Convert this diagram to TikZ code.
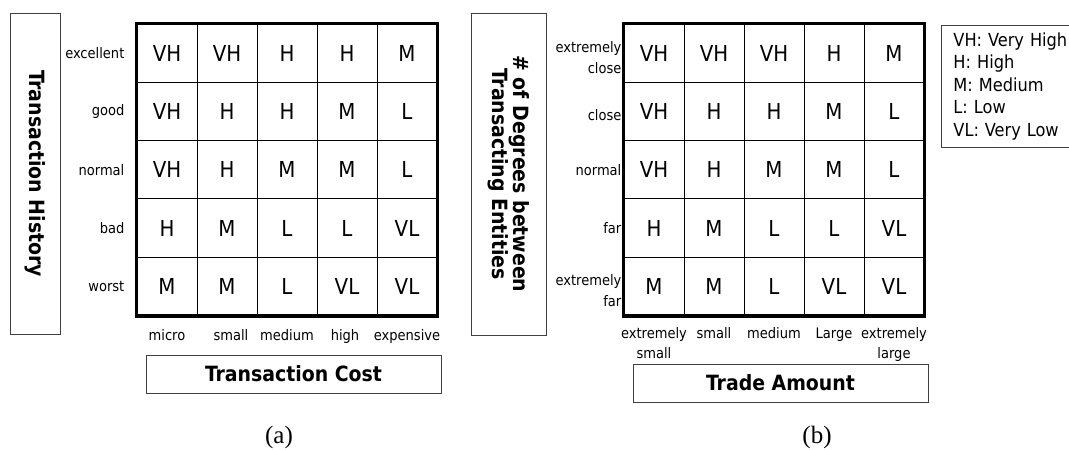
\documentclass[tikz,border=0pt]{standalone}
\usepackage{fontspec}
\setmainfont{DejaVu Sans Condensed}
\newfontfamily\capfont{Liberation Serif}
\usetikzlibrary{positioning}
\tikzset{
  cellnode/.style = {draw=black, line width=0.9pt, inner sep=0pt,
    minimum width=60pt, minimum height=58.3pt,
    font=\fontsize{22}{22}\selectfont},% one grade of the table
  rowlab/.style = {inner sep=0pt, align=right,
    font=\fontsize{14.5}{21}\selectfont},% row name
  collab/.style = {inner sep=0pt, align=center,
    font=\fontsize{14.5}{20}\selectfont},% column name
  axisbox/.style = {draw=black!75, line width=0.9pt, inner sep=0pt,
    align=center, font=\bfseries\fontsize{21}{20}\selectfont},% axis title
  capt/.style = {inner sep=0pt, font=\capfont\fontsize{25}{25}\selectfont}% (a), (b)
}

\begin{document}
\begin{tikzpicture}[x=1pt, y=-1pt]
\useasboundingbox (0,0) rectangle (1069,450);
\clip (0,0) rectangle (1069,450);

% (a) transaction history vs. transaction cost
\foreach \row [count=\r] in {{VH,VH,H,H,M},{VH,H,H,M,L},{VH,H,M,M,L},{H,M,L,L,VL},{M,M,L,VL,VL}}
  \foreach \v [count=\c] in \row
    \node[cellnode] (a\r\c) at (107+60*\c, -5.15+58.3*\r) {\v};
\draw[line width=3.5pt] (a11.north west) rectangle (a55.south east);

\node[rowlab, left=12pt of a11] (ra1) {excellent};
\node[rowlab, left=12pt of a21] (ra2) {good};
\node[rowlab, left=12pt of a31] (ra3) {normal};
\node[rowlab, left=12pt of a41] (ra4) {bad};
\node[rowlab, left=12pt of a51] (ra5) {worst};

\node[collab, below=13pt of a51] (ca1) {micro};
\node[collab, below=13pt of a52, xshift=4pt] (ca2) {small};
\node[collab, below=13pt of a53] (ca3) {medium};
\node[collab, below=13pt of a54, xshift=-2pt] (ca4) {high};
\node[collab, below=13pt of a55] (ca5) {expensive};

\node[axisbox, minimum width=321pt, minimum height=50pt, rotate=-90] (ta) at (35,173.5) {Transaction History};
\node[axisbox, minimum width=295pt, minimum height=38pt] (tc) at (293.5,374) {Transaction Cost};
\node[capt] (la) at (279,437) {(a)};

% (b) degrees between entities vs. trade amount
\foreach \row [count=\r] in {{VH,VH,VH,H,M},{VH,H,H,M,L},{VH,H,M,M,L},{H,M,L,L,VL},{M,M,L,VL,VL}}
  \foreach \v [count=\c] in \row
    \node[cellnode] (b\r\c) at (594+60*\c, -5.15+58.3*\r) {\v};
\draw[line width=3.5pt] (b11.north west) rectangle (b55.south east);

\node[rowlab, left=2pt of b11, yshift=-4pt] (rb1) {extremely\\close};
\node[rowlab, left=2pt of b21, yshift=-4pt] (rb2) {close};
\node[rowlab, left=2pt of b31] (rb3) {normal};
\node[rowlab, left=2pt of b41] (rb4) {far};
\node[rowlab, left=2pt of b51, yshift=-4pt] (rb5) {extremely\\far};

\node[collab, below=11.5pt of b51] (cb1) {extremely\\small};
\node[collab, below=11.5pt of b52] (cb2) {small};
\node[collab, below=11.5pt of b53] (cb3) {medium};
\node[collab, below=11.5pt of b54] (cb4) {Large};
\node[collab, below=11.5pt of b55] (cb5) {extremely\\large};

\node[axisbox, minimum width=322pt, minimum height=75pt, rotate=-90] (tb) at (508.5,174) {\# of Degrees between\\Transacting Entities};
\node[axisbox, minimum width=295pt, minimum height=38pt] (td) at (780.5,383) {Trade Amount};
\node[capt] (lb) at (817,437) {(b)};

% key to the grades
\node[draw=black!75, line width=0.9pt, anchor=north west, inner xsep=12pt, inner ysep=0pt,
  text width=125pt, minimum height=122pt, align=left,
  font=\fontsize{18}{22.5}\selectfont] (key) at (941,25)
  {VH: Very High\\H: High\\M: Medium\\L: Low\\VL: Very Low};
\end{tikzpicture}
\end{document}
